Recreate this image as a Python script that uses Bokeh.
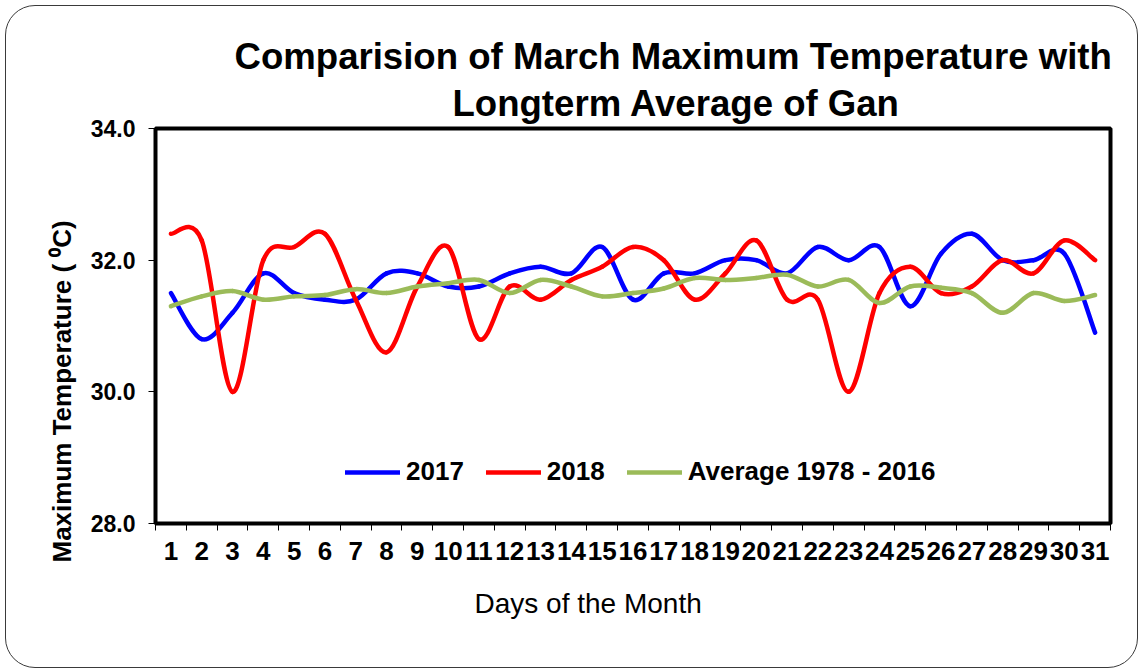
from bokeh.plotting import figure
from bokeh.models import FixedTicker, NumeralTickFormatter, Range1d, ColumnDataSource, Legend, LegendItem, Title
from bokeh.embed import file_html
from bokeh.resources import INLINE

days = list(range(1, 32))
day_labels = [str(d) for d in days]
t2017 = [31.5, 30.8, 31.2, 31.8, 31.5, 31.4, 31.4, 31.8, 31.8, 31.6, 31.6, 31.8, 31.9, 31.8, 32.2, 31.4,
         31.8, 31.8, 32.0, 32.0, 31.8, 32.2, 32.0, 32.2, 31.3, 32.1, 32.4, 32.0, 32.0, 32.1, 30.9]
t2018 = [32.4, 32.3, 30.0, 32.0, 32.2, 32.4, 31.4, 30.6, 31.6, 32.2, 30.8, 31.6, 31.4, 31.7, 31.9, 32.2,
         32.0, 31.4, 31.8, 32.3, 31.4, 31.4, 30.0, 31.5, 31.9, 31.5, 31.6, 32.0, 31.8, 32.3, 32.0]
tavg = [31.3, 31.45, 31.53, 31.4, 31.45, 31.47, 31.56, 31.5, 31.6, 31.65, 31.7, 31.5, 31.7, 31.6, 31.45, 31.5,
        31.57, 31.73, 31.7, 31.73, 31.78, 31.6, 31.7, 31.35, 31.6, 31.58, 31.5, 31.2, 31.5, 31.38, 31.47]
series_names = ["2017", "2018", "Average 1978 - 2016"]
series_colors = ["#0000FF", "#FF0000", "#9BBB59"]
y_ticks = [28, 30, 32, 34]

FONT = "Liberation Sans"

p = figure(width=1133, height=663, output_backend="svg", toolbar_location=None,
           x_range=Range1d(0.5, 31.5), y_range=Range1d(28, 34),
           min_border_left=149, min_border_right=29, min_border_top=122, min_border_bottom=146)
p.border_fill_alpha = 0
p.background_fill_color = "white"
p.outline_line_color = "black"
p.outline_line_width = 4
p.grid.visible = False
p.styles = {"border": "1.3px solid #3a3a3a", "border-radius": "30px", "background": "white",
            "overflow": "hidden", "margin": "5px 0 0 5px"}

# x axis
xa = p.xaxis[0]
xa.ticker = FixedTicker(ticks=days, minor_ticks=[d - 0.5 for d in days] + [31.5])
xa.major_label_overrides = {d: l for d, l in zip(days, day_labels)}
xa.major_tick_out = 0
xa.major_tick_in = 0
xa.minor_tick_out = 7
xa.minor_tick_in = 0
xa.minor_tick_line_color = "black"
xa.axis_line_color = "black"
xa.axis_line_width = 2
xa.major_label_standoff = 11
xa.major_label_text_font = FONT
xa.major_label_text_font_style = "bold"
xa.major_label_text_font_size = "26px"
xa.major_label_text_color = "black"

ya = p.yaxis[0]
ya.ticker = FixedTicker(ticks=y_ticks)
ya.formatter = NumeralTickFormatter(format="0.0")
ya.major_tick_out = 7
ya.major_tick_in = 0
ya.minor_tick_out = 0
ya.minor_tick_in = 0
ya.axis_line_color = "black"
ya.axis_line_width = 2
ya.major_label_standoff = 13
ya.major_label_text_font = FONT
ya.major_label_text_font_style = "bold"
ya.major_label_text_font_size = "23px"
ya.major_label_text_color = "black"


def smooth(xs, ys):
    n = len(xs)
    d = dict(x0=[], y0=[], x1=[], y1=[], cx0=[], cy0=[], cx1=[], cy1=[])
    for i in range(n - 1):
        i0 = max(i - 1, 0)
        i3 = min(i + 2, n - 1)
        d["x0"].append(xs[i]); d["y0"].append(ys[i])
        d["x1"].append(xs[i + 1]); d["y1"].append(ys[i + 1])
        d["cx0"].append(xs[i] + (xs[i + 1] - xs[i0]) / 6.0)
        d["cy0"].append(ys[i] + (ys[i + 1] - ys[i0]) / 6.0)
        d["cx1"].append(xs[i + 1] - (xs[i3] - xs[i]) / 6.0)
        d["cy1"].append(ys[i + 1] - (ys[i3] - ys[i]) / 6.0)
    return ColumnDataSource(d)


items = []
for name, color, vals in zip(series_names, series_colors, [t2017, t2018, tavg]):
    r = p.bezier(x0="x0", y0="y0", x1="x1", y1="y1", cx0="cx0", cy0="cy0", cx1="cx1", cy1="cy1",
                 source=smooth(days, vals), line_color=color, line_width=4.5, line_cap="round", line_join="round")
    items.append(LegendItem(label=name, renderers=[r]))

legend = Legend(items=items, orientation="horizontal", location=(190, 36))
legend.label_text_font = FONT
legend.label_text_font_style = "bold"
legend.label_text_font_size = "26px"
legend.label_text_color = "black"
legend.glyph_width = 55
legend.glyph_height = 26
legend.label_height = 26
legend.label_standoff = 6
legend.spacing = 22
legend.padding = 0
legend.margin = 0
legend.border_line_alpha = 0
legend.background_fill_alpha = 0
p.add_layout(legend, "center")

# titles: the figure's own title is the top line, the added one sits just above the frame
p.title.text = "Comparision of March Maximum Temperature with"
p.title.align = "left"
p.title.offset = 79
p.title.text_font = FONT
p.title.text_font_style = "bold"
p.title.text_font_size = "36.6px"
p.title.text_color = "black"
p.title.standoff = 0
p.add_layout(Title(text="Longterm Average of Gan", align="left", offset=297,
                   text_font=FONT, text_font_style="bold", text_font_size="36.6px", text_color="black",
                   standoff=9), "above")

# axis titles
p.add_layout(Title(text="Maximum Temperature ( \u2070C)", align="left", offset=-39,
                   text_font=FONT, text_font_style="bold", text_font_size="26px", text_color="black",
                   standoff=22), "left")
p.add_layout(Title(text="Days of the Month", align="left", offset=319,
                   text_font=FONT, text_font_style="normal", text_font_size="28px", text_color="black",
                   standoff=46), "below")

open("out.html", "w").write(file_html(p, INLINE))
